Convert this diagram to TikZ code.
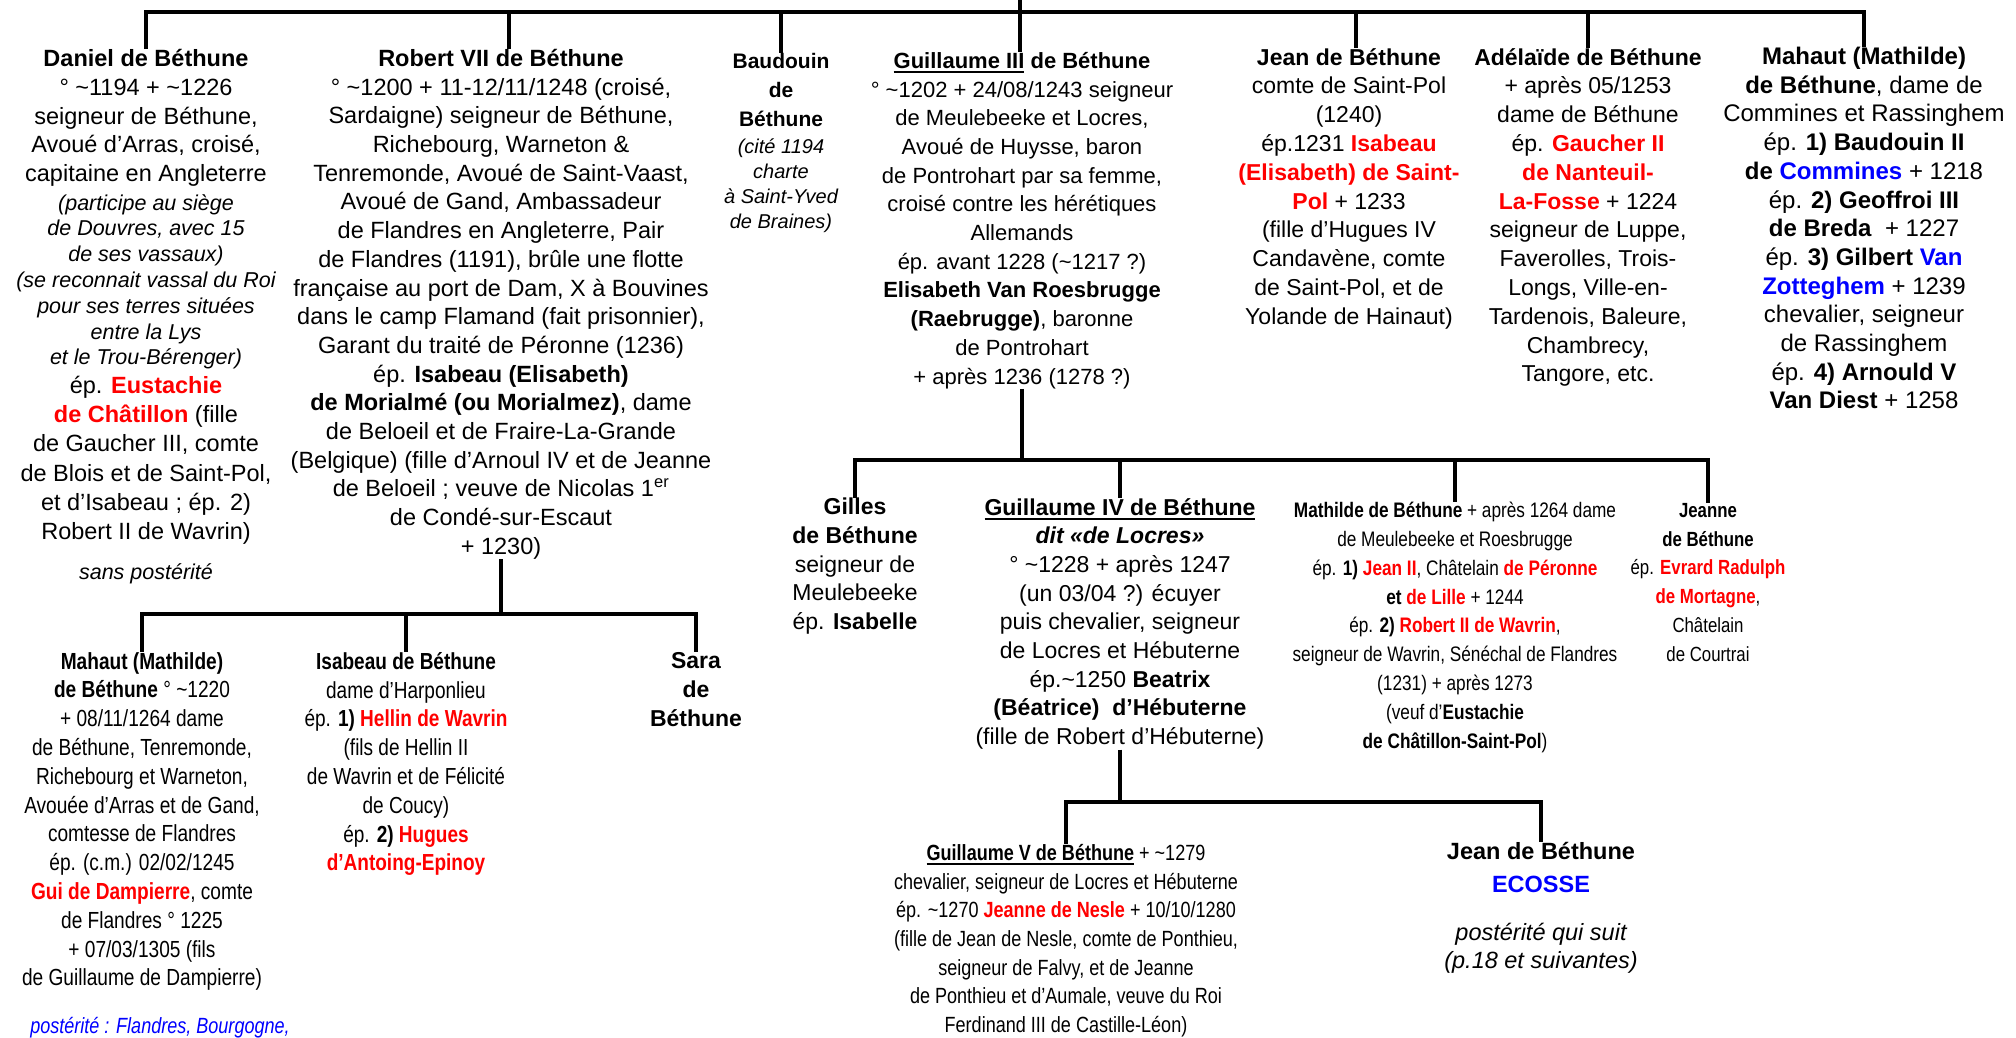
\documentclass[tikz,border=0pt]{standalone}
\usepackage{fontspec}
\setmainfont{Liberation Sans}
\newfontfamily\etroit[FakeStretch=0.82]{Liberation Sans}
\definecolor{rouge}{RGB}{255,0,0}
\definecolor{bleu}{RGB}{0,0,255}
\newcommand{\rd}[1]{\textbf{\textcolor{rouge}{#1}}}
\newcommand{\bl}[1]{\textbf{\textcolor{bleu}{#1}}}
\newcommand{\souligne}[1]{\vtop{\hbox{#1}\kern2.5pt\hrule height 2pt}}
\newcommand{\sz}[2]{\fontsize{#1}{#2}\selectfont}

\tikzset{
  link/.style={line width=3.5pt},
  person/.style={align=center, inner sep=0pt, anchor=north},
}

\begin{document}
\begin{tikzpicture}[x=1pt, y=-1pt]
\useasboundingbox (0,0) rectangle (2016,1037);

% first generation
\node [person, font=\sz{23.5}{28.8}] (daniel) at (146,49) {\textbf{Daniel de Béthune}\\
° \textasciitilde1194 + \textasciitilde1226\\
seigneur de Béthune,\\
Avoué d’Arras, croisé,\\
capitaine en Angleterre};
\node [person, font=\sz{21.5}{25.8}\itshape] (danielnote) at (146,194) {(participe au siège\\
de Douvres, avec 15\\
de ses vassaux)\\
(se reconnait vassal du Roi\\
pour ses terres situées\\
entre la Lys\\
et le Trou-Bérenger)};
\node [person, font=\sz{23.5}{29.2}] (danielep) at (146,376) {ép. \rd{Eustachie}\\
\rd{de Châtillon} (fille\\
de Gaucher III, comte\\
de Blois et de Saint-Pol,\\
et d’Isabeau ; ép. 2)\\
Robert II de Wavrin)};
\node [person, font=\sz{21.5}{25.8}\itshape] (danielpost) at (146,563) {sans postérité};

\node [person, font=\sz{23.5}{28.7}] (robert) at (501,49) {\textbf{Robert VII de Béthune}\\
° \textasciitilde1200 + 11-12/11/1248 (croisé,\\
Sardaigne) seigneur de Béthune,\\
Richebourg, Warneton \&\\
Tenremonde, Avoué de Saint-Vaast,\\
Avoué de Gand, Ambassadeur\\
de Flandres en Angleterre, Pair\\
de Flandres (1191), brûle une flotte\\
française au port de Dam, X à Bouvines\\
dans le camp Flamand (fait prisonnier),\\
Garant du traité de Péronne (1236)\\
ép. \textbf{Isabeau (Elisabeth)}\\
\textbf{de Morialmé (ou Morialmez)}, dame\\
de Beloeil et de Fraire-La-Grande\\
(Belgique) (fille d’Arnoul IV et de Jeanne\\
de Beloeil ; veuve de Nicolas 1\textsuperscript{er}\\
de Condé-sur-Escaut\\
+ 1230)};

\node [person, font=\sz{21}{29}\bfseries] (baudouin) at (781,53) {Baudouin\\ de\\ Béthune};
\node [person, font=\sz{20}{25}\itshape] (baudouinnote) at (781,139) {(cité 1194\\
charte\\
à Saint-Yved\\
de Braines)};

\node [person, font=\sz{22}{28.7}] (guillaume) at (1022,52) {\souligne{\textbf{Guillaume III}} \textbf{de Béthune}\\
° \textasciitilde1202 + 24/08/1243 seigneur\\
de Meulebeeke et Locres,\\
Avoué de Huysse, baron\\
de Pontrohart par sa femme,\\
croisé contre les hérétiques\\
Allemands\\
ép. avant 1228 (\textasciitilde1217 ?)\\
\textbf{Elisabeth Van Roesbrugge}\\
\textbf{(Raebrugge)}, baronne\\
de Pontrohart\\
+ après 1236 (1278 ?)};

\node [person, font=\sz{23}{28.8}] (jean) at (1349,48) {\textbf{Jean de Béthune}\\
comte de Saint-Pol\\
(1240)\\
ép.1231 \rd{Isabeau}\\
\rd{(Elisabeth) de Saint-}\\
\rd{Pol} + 1233\\
(fille d’Hugues IV\\
Candavène, comte\\
de Saint-Pol, et de\\
Yolande de Hainaut)};

\node [person, font=\sz{23}{28.8}] (adelaide) at (1588,48) {\textbf{Adélaïde de Béthune}\\
+ après 05/1253\\
dame de Béthune\\
ép. \rd{Gaucher II}\\
\rd{de Nanteuil-}\\
\rd{La-Fosse} + 1224\\
seigneur de Luppe,\\
Faverolles, Trois-\\
Longs, Ville-en-\\
Tardenois, Baleure,\\
Chambrecy,\\
Tangore, etc.};

\node [person, font=\sz{24}{28.7}] (mahaut) at (1864,47) {\textbf{Mahaut (Mathilde)}\\
\textbf{de Béthune}, dame de\\
Commines et Rassinghem\\
ép. \textbf{1) Baudouin II}\\
\textbf{de \bl{Commines}} + 1218\\
ép. \textbf{2) Geoffroi III}\\
\textbf{de Breda}\ \ + 1227\\
ép. \textbf{3) Gilbert \bl{Van}}\\
\bl{Zotteghem} + 1239\\
chevalier, seigneur\\
de Rassinghem\\
ép. \textbf{4) Arnould V}\\
\textbf{Van Diest} + 1258};

% children of Robert VII
\node [person, font=\etroit\sz{23.3}{28.8}] (mahautbas) at (142,652) {\textbf{Mahaut (Mathilde)}\\
\textbf{de Béthune} ° \textasciitilde1220\\
+ 08/11/1264 dame\\
de Béthune, Tenremonde,\\
Richebourg et Warneton,\\
Avouée d’Arras et de Gand,\\
comtesse de Flandres\\
ép. (c.m.) 02/02/1245\\
\rd{Gui de Dampierre}, comte\\
de Flandres ° 1225\\
+ 07/03/1305 (fils\\
de Guillaume de Dampierre)};
\node [anchor=base, inner sep=0pt, font=\etroit\sz{22}{26}\itshape, text=bleu] (posterite) at (160,1033) {postérité : Flandres, Bourgogne,};

\node [person, font=\etroit\sz{23.2}{28.8}] (isabeau) at (406,652) {\textbf{Isabeau de Béthune}\\
dame d’Harponlieu\\
ép. \textbf{1)} \rd{Hellin de Wavrin}\\
(fils de Hellin II\\
de Wavrin et de Félicité\\
de Coucy)\\
ép. \textbf{2)} \rd{Hugues}\\
\rd{d’Antoing-Epinoy}};

\node [person, font=\sz{23}{29}\bfseries] (sara) at (696,652) {Sara\\ de\\ Béthune};

% children of Guillaume III
\node [person, font=\sz{23}{28.7}] (gilles) at (855,498) {\textbf{Gilles}\\
\textbf{de Béthune}\\
seigneur de\\
Meulebeeke\\
ép. \textbf{Isabelle}};

\node [person, font=\sz{23}{28.7}] (guillaumeiv) at (1120,498) {\souligne{\textbf{Guillaume IV de Béthune}}\\
\textbf{\textit{dit «de Locres»}}\\
° \textasciitilde1228 + après 1247\\
(un 03/04 ?) écuyer\\
puis chevalier, seigneur\\
de Locres et Hébuterne\\
ép.\textasciitilde1250 \textbf{Beatrix}\\
\textbf{(Béatrice)\ \ d’Hébuterne}\\
(fille de Robert d’Hébuterne)};

\node [person, font=\etroit\sz{21}{28.8}] (mathilde) at (1455,502) {\textbf{Mathilde de Béthune} + après 1264 dame\\
de Meulebeeke et Roesbrugge\\
ép. \textbf{1)} \rd{Jean II}, Châtelain \rd{de Péronne}\\
\textbf{et} \rd{de Lille} + 1244\\
ép. \textbf{2)} \rd{Robert II de Wavrin},\\
seigneur de Wavrin, Sénéchal de Flandres\\
(1231) + après 1273\\
(veuf d’\textbf{Eustachie}\\
\textbf{de Châtillon-Saint-Pol})};

\node [person, font=\etroit\sz{20.5}{28.8}] (jeanne) at (1708,503) {\textbf{Jeanne}\\
\textbf{de Béthune}\\
ép. \rd{Evrard Radulph}\\
\rd{de Mortagne},\\
Châtelain\\
de Courtrai};

% children of Guillaume IV
\node [person, font=\etroit\sz{22}{28.7}] (guillaumev) at (1066,844) {\souligne{\textbf{Guillaume V de Béthune}} + \textasciitilde1279\\
chevalier, seigneur de Locres et Hébuterne\\
ép. \textasciitilde1270 \rd{Jeanne de Nesle} + 10/10/1280\\
(fille de Jean de Nesle, comte de Ponthieu,\\
seigneur de Falvy, et de Jeanne\\
de Ponthieu et d’Aumale, veuve du Roi\\
Ferdinand III de Castille-Léon)};

\node [person, font=\sz{23.5}{33}] (jeanecosse) at (1541,842) {\textbf{Jean de Béthune}\\
\bl{ECOSSE}};
\node [person, font=\sz{23.5}{28}\itshape] (ecossenote) at (1541,923) {postérité qui suit\\
(p.18 et suivantes)};

% connectors
\coordinate (racine) at (1020,0);
\coordinate (barre) at (1020,12);
\coordinate (barreb) at (500,614);
\coordinate (barrec) at (1023,460);
\coordinate (barred) at (1120,802);
\coordinate (robdrop) at ([xshift=8pt]robert.north);
\coordinate (jeandrop) at ([xshift=7pt]jean.north);

\draw [link] (daniel.north) -- (daniel.north |- barre) -- (mahaut.north |- barre) -- (mahaut.north);
\draw [link] (racine) -- (racine |- guillaume.north);
\draw [link] (robdrop |- barre) -- (robdrop);
\draw [link] (baudouin.north |- barre) -- (baudouin.north);
\draw [link] (jeandrop |- barre) -- (jeandrop);
\draw [link] (adelaide.north |- barre) -- (adelaide.north);

\draw [link] (robert.south) -- (robert.south |- barreb);
\draw [link] (mahautbas.north) -- (mahautbas.north |- barreb) -- (sara.north |- barreb) -- (sara.north);
\draw [link] (isabeau.north |- barreb) -- (isabeau.north);

\draw [link] (guillaume.south) -- (guillaume.south |- barrec);
\draw [link] (gilles.north) -- (gilles.north |- barrec) -- (jeanne.north |- barrec) -- (jeanne.north);
\draw [link] (guillaumeiv.north |- barrec) -- (guillaumeiv.north);
\draw [link] (mathilde.north |- barrec) -- (mathilde.north);

\draw [link] (guillaumeiv.south) -- (guillaumeiv.south |- barred);
\draw [link] (guillaumev.north) -- (guillaumev.north |- barred) -- (jeanecosse.north |- barred) -- (jeanecosse.north);

\end{tikzpicture}
\end{document}
